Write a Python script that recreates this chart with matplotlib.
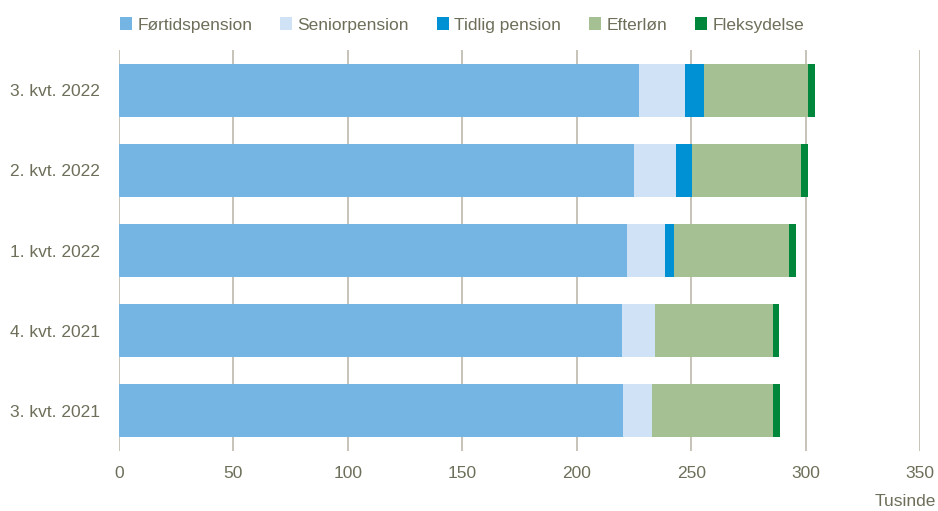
import numpy as np
import matplotlib
matplotlib.use("Agg")
import matplotlib.pyplot as plt

plt.rcParams["font.family"] = ["Liberation Sans Narrow", "Liberation Sans", "DejaVu Sans"]

quarters = ["3. kvt. 2022", "2. kvt. 2022", "1. kvt. 2022", "4. kvt. 2021", "3. kvt. 2021"]
series_names = ["Førtidspension", "Seniorpension", "Tidlig pension", "Efterløn", "Fleksydelse"]
fortid = [227.1, 225.0, 221.9, 219.7, 220.1]
senior = [20.1, 18.6, 16.5, 14.3, 13.0]
tidlig = [8.3, 6.6, 4.2, 0.0, 0.0]
efterlon = [45.6, 47.9, 50.1, 51.7, 52.6]
fleks = [2.9, 2.9, 2.9, 2.8, 3.2]
colors = ["#75B5E3", "#CFE2F6", "#0091D5", "#A5C194", "#00873B"]
xticks = [0, 50, 100, 150, 200, 250, 300, 350]

text_col = "#6E6E5A"
grid_col = "#BEB9AD"
fs = 12.5

fig = plt.figure(figsize=(9.38, 5.11), dpi=100)
ax = fig.add_axes([119 / 938, 1 - 451 / 511, (920 - 119) / 938, (451 - 50) / 511])

y = np.arange(len(quarters))
left = np.zeros(len(quarters))
for name, vals, c in zip(series_names, [fortid, senior, tidlig, efterlon, fleks], colors):
    vals = np.array(vals)
    ax.barh(y, vals, left=left, height=0.66, color=c, label=name, zorder=3)
    left += vals

ax.set_ylim(len(quarters) - 0.5, -0.5)
ax.set_xlim(0, 350)
ax.set_xticks(xticks)
ax.set_xticklabels([str(t) for t in xticks])
ax.set_yticks(y)
ax.set_yticklabels(quarters)
ax.tick_params(axis="both", length=0, labelsize=fs, colors=text_col)
ax.tick_params(axis="x", pad=11)
ax.tick_params(axis="y", pad=14)
for s in ax.spines.values():
    s.set_visible(False)
ax.grid(axis="x", color=grid_col, linewidth=1.2, zorder=0)

fig.text(936 / 938, 1 - 502 / 511, "Tusinde", ha="right", va="center", fontsize=fs, color=text_col)

fig.legend(loc="center", bbox_to_anchor=(462 / 938, 1 - 25 / 511), ncol=5, frameon=False,
           fontsize=fs, handlelength=0.7, handleheight=0.7, handletextpad=0.3,
           columnspacing=1.6, labelcolor=text_col)

fig.savefig("out.png", dpi=100)
